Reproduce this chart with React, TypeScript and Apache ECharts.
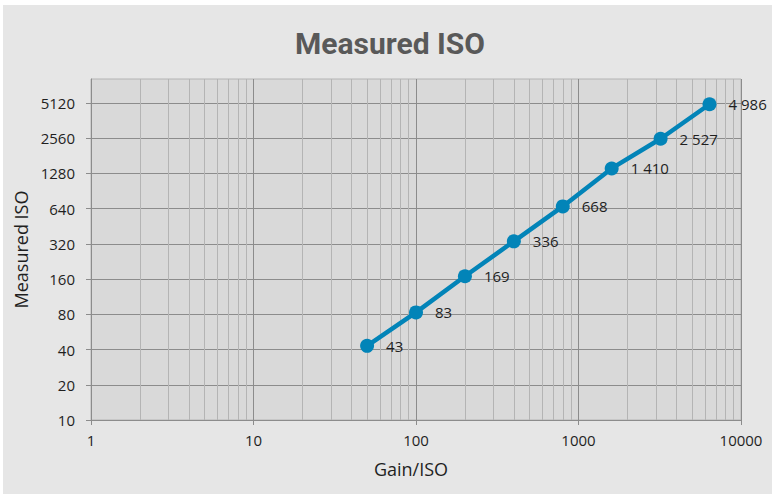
import React, { useEffect, useRef } from "react";
import * as echarts from "echarts";

// ---- data ----
const gainIso = [50, 100, 200, 400, 800, 1600, 3200, 6400];
const measuredIso = [43, 83, 169, 336, 668, 1410, 2527, 4986];
const yTickLabels = [10, 20, 40, 80, 160, 320, 640, 1280, 2560, 5120];
const xMinorGrid = [
  2, 3, 4, 5, 6, 7, 8, 9,
  20, 30, 40, 50, 60, 70, 80, 90,
  200, 300, 400, 500, 600, 700, 800, 900,
  2000, 3000, 4000, 5000, 6000, 7000, 8000, 9000,
];
const X_MIN = 1;
const X_MAX = 10000;
const Y_MIN = 10;
const Y_MAX = 8192;

const fontFamily = "'Open Sans', sans-serif";
const textColor = "#1f1f1f";
const majorGrid = "#8c8c8c";
const minorGrid = "#b4b4b4";
const blue = "#0284b8";

const spaced = (v: number) => String(v).replace(/\B(?=(\d{3})+(?!\d))/g, " ");

export default function App() {
  const ref = useRef<HTMLDivElement>(null);

  useEffect(() => {
    if (!ref.current) return;
    const chart = echarts.init(ref.current, undefined, { renderer: "svg" });
    const yTickIdx = yTickLabels.map((_, i) => i);
    const option: any = {
      animation: false,
      backgroundColor: "#e6e6e6",
      textStyle: { fontFamily },
      graphic: [
        {
          type: "text",
          x: 387,
          y: 38,
          silent: true,
          style: {
            text: "Measured ISO",
            fill: "#595959",
            font: "bold 30px Roboto",
            align: "center",
            verticalAlign: "middle",
          },
        },
      ],
      grid: {
        left: 88,
        right: 31,
        top: 74,
        bottom: 74,
        show: true,
        backgroundColor: "#d9d9d9",
        borderColor: minorGrid,
        borderWidth: 1,
      },
      xAxis: {
        type: "log",
        logBase: 10,
        min: X_MIN,
        max: X_MAX,
        name: "Gain/ISO",
        nameLocation: "middle",
        nameGap: 40,
        nameTextStyle: { fontSize: 18, color: textColor, fontFamily, padding: [0, 10, 0, 0] },
        axisLine: { show: true, lineStyle: { color: majorGrid, width: 1 } },
        axisTick: { show: true, length: 5, lineStyle: { color: majorGrid } },
        axisLabel: {
          fontSize: 15,
          color: textColor,
          margin: 12,
          formatter: (v: number) => String(v),
        },
        splitLine: { show: true, lineStyle: { color: majorGrid, width: 1 } },
      },
      yAxis: [
        {
          type: "value",
          min: 0,
          max: Math.log2(Y_MAX / Y_MIN),
          interval: 1,
          name: "Measured ISO",
          nameLocation: "middle",
          nameGap: 56,
          nameTextStyle: { fontSize: 18, color: textColor, fontFamily },
          axisLine: { show: true, lineStyle: { color: majorGrid, width: 1 } },
          axisTick: { show: true, length: 5, lineStyle: { color: majorGrid }, customValues: yTickIdx },
          axisLabel: {
            fontSize: 15,
            color: textColor,
            margin: 16,
            customValues: yTickIdx,
            formatter: (v: number) => {
              const i = Math.round(v);
              return Math.abs(v - i) < 1e-6 && yTickLabels[i] != null ? String(yTickLabels[i]) : "";
            },
          },
          splitLine: { show: true, lineStyle: { color: majorGrid, width: 1 } },
        },
        {
          type: "log",
          logBase: 2,
          min: Y_MIN,
          max: Y_MAX,
          show: false,
          splitLine: { show: false },
        },
      ],
      series: [
        {
          type: "line",
          xAxisIndex: 0,
          yAxisIndex: 1,
          z: 3,
          silent: true,
          data: gainIso.map((g, i) => [g, measuredIso[i]]),
          symbol: "circle",
          symbolSize: 14,
          showAllSymbol: true,
          lineStyle: { color: blue, width: 4.5 },
          itemStyle: { color: blue },
          emphasis: { disabled: true },
          label: {
            show: true,
            position: "right",
            distance: 12,
            fontSize: 15,
            color: textColor,
            fontFamily,
            formatter: (p: any) => spaced(p.value[1]),
          },
          markLine: {
            silent: true,
            z: 1,
            symbol: ["none", "none"],
            label: { show: false },
            emphasis: { disabled: true },
            lineStyle: { color: minorGrid, width: 1, type: "solid" },
            data: xMinorGrid.map((v) => ({ xAxis: v })),
          },
        },
      ],
    };
    chart.setOption(option);
    return () => chart.dispose();
  }, []);

  return (
    <div
      style={{
        position: "absolute",
        left: 0,
        top: 0,
        width: 772,
        height: 494,
        background: "#ffffff",
      }}
    >
      <div
        ref={ref}
        style={{ position: "absolute", left: 3, top: 5, width: 769, height: 489 }}
      />
    </div>
  );
}
